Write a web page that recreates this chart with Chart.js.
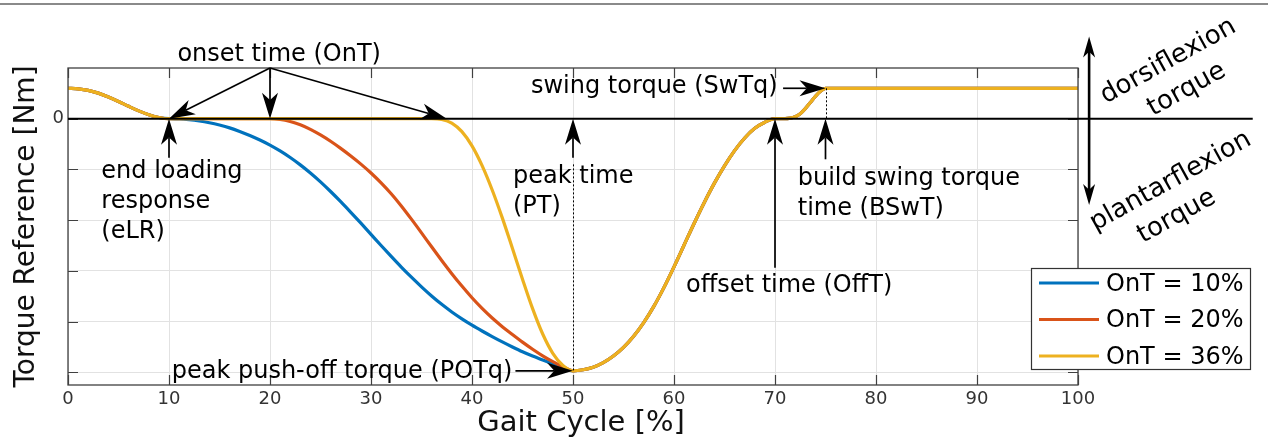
<!DOCTYPE html>
<html><head><meta charset="utf-8">
<script src="https://cdn.jsdelivr.net/npm/chart.js@4.4.1/dist/chart.umd.min.js"></script>
<style>html,body{margin:0;padding:0;background:#fff;overflow:hidden}#wrap{width:1268px;height:440px;position:relative}</style>
</head><body><div id="wrap"><canvas id="c" width="1268" height="440"></canvas></div>
<script>
// ---------- data ----------
const seriesLabels = ['OnT = 10%', 'OnT = 20%', 'OnT = 36%'];
const seriesColors = ['#0072BD', '#D95319', '#EDB120'];

// shared early stance part (0-10 %)
const earlyPct    = [0, 1, 2, 3, 4, 5, 6, 7, 8, 9, 10];
const earlyTorque = [0.6, 0.59, 0.56, 0.505, 0.43, 0.34, 0.245, 0.155, 0.08, 0.025, 0];

// OnT = 10 %
const bluePct    = [11, 12, 13, 14, 15, 16, 17, 18, 19, 20, 21, 22, 23, 24, 25, 26, 27, 28, 29, 30, 31, 32, 33, 34, 35, 36, 37, 38, 39, 40, 41, 42, 43, 44, 45, 46, 47, 48, 49, 50];
const blueTorque = [-0.005, -0.02, -0.045, -0.08, -0.125, -0.18, -0.25, -0.33, -0.42, -0.52, -0.635, -0.765, -0.91, -1.07, -1.245, -1.435, -1.635, -1.845, -2.06, -2.28, -2.5, -2.715, -2.925, -3.125, -3.315, -3.495, -3.66, -3.81, -3.945, -4.07, -4.185, -4.295, -4.4, -4.5, -4.595, -4.68, -4.755, -4.83, -4.9, -4.97];

// OnT = 20 %
const orangePct    = [15, 20, 21, 22, 23, 24, 25, 26, 27, 28, 29, 30, 31, 32, 33, 34, 35, 36, 37, 38, 39, 40, 41, 42, 43, 44, 45, 46, 47, 48, 49, 50];
const orangeTorque = [0, 0, -0.015, -0.055, -0.12, -0.21, -0.32, -0.445, -0.585, -0.735, -0.895, -1.07, -1.265, -1.48, -1.72, -1.98, -2.25, -2.525, -2.795, -3.055, -3.3, -3.53, -3.74, -3.93, -4.1, -4.255, -4.405, -4.545, -4.675, -4.79, -4.89, -4.97];

// OnT = 36 %
const yellowPct    = [20, 30, 36, 37, 38, 39, 40, 41, 42, 43, 44, 45, 46, 47, 48, 49, 50];
const yellowTorque = [0, 0, 0, -0.015, -0.085, -0.255, -0.535, -0.925, -1.405, -1.955, -2.555, -3.165, -3.745, -4.245, -4.625, -4.865, -4.97];

// shared late stance + swing part (51-100 %)
const latePct    = [51, 52, 53, 54, 55, 56, 57, 58, 59, 60, 61, 62, 63, 64, 65, 66, 67, 68, 69, 70, 71, 71.5, 72, 72.5, 73, 73.5, 74, 74.5, 75, 100];
const lateTorque = [-4.95, -4.9, -4.81, -4.68, -4.51, -4.29, -4.02, -3.7, -3.33, -2.92, -2.49, -2.06, -1.65, -1.27, -0.93, -0.63, -0.38, -0.19, -0.07, 0, 0.002, 0.012, 0.04, 0.1, 0.2, 0.32, 0.44, 0.54, 0.6, 0.6];

const xTickValues = [0, 10, 20, 30, 40, 50, 60, 70, 80, 90, 100];
const xTickLabels = ['0', '10', '20', '30', '40', '50', '60', '70', '80', '90', '100'];
const yTickValues = [-5, -4, -3, -2, -1, 0];
const yTickLabels = ['', '', '', '', '', '0'];

// ---------- annotations (data coordinates) ----------
const arrowSpecs = [
  { from: [20, 1.0],   to: [10, 0] },
  { from: [20, 1.0],   to: [20, 0] },
  { from: [20, 1.0],   to: [37.5, 0] },
  { from: [10, -0.77], to: [10, 0] },
  { from: [50, -0.77], to: [50, 0] },
  { from: [70.8, 0.6], to: [75, 0.6] },
  { from: [75, -0.8],  to: [75, 0] },
  { from: [70, -2.94], to: [70, 0] },
  { from: [44.3, -4.97], to: [50, -4.97] }
];
const dottedSpecs = [
  { from: [50, -0.9], to: [50, -4.97] },
  { from: [75, 0.6],  to: [75, 0] }
];
const textSpecs = [
  { lines: ['onset time (OnT)'], x: 20.91, y: 1.145, align: 'center' },
  { lines: ['end loading', 'response', '(eLR)'], x: 3.3, y: -1.17, align: 'left' },
  { lines: ['peak time', '(PT)'], x: 44.06, y: -1.27, align: 'left' },
  { lines: ['swing torque (SwTq)'], x: 45.84, y: 0.507, align: 'left' },
  { lines: ['build swing torque', 'time (BSwT)'], x: 72.25, y: -1.30, align: 'left' },
  { lines: ['offset time (OffT)'], x: 61.2, y: -3.41, align: 'left' },
  { lines: ['peak push-off torque (POTq)'], x: 10.27, y: -5.12, align: 'left' }
];
const rotatedSpecs = [
  { text: 'dorsiflexion',   x: 108.94, y: 1.131 },
  { text: 'torque',         x: 110.76, y: 0.573 },
  { text: 'plantarflexion', x: 109.18, y: -1.238 },
  { text: 'torque',         x: 109.77, y: -1.929 }
];
const directionArrow = { x: 101.1, top: 1.62, bottom: -1.70 };
const zeroLineEnd = 117.3;
const xTitle = { text: 'Gait Cycle [%]', x: 50.8, baselineY: 431 };

function pts(xs, ys) { return xs.map((x, i) => ({ x: x, y: ys[i] })); }

const FONT = "'DejaVu Sans', Verdana, sans-serif";

function drawArrowHead(ctx, x1, y1, x2, y2, L, W) {
  const dx = x2 - x1, dy = y2 - y1, len = Math.hypot(dx, dy);
  const ux = dx / len, uy = dy / len, px = -uy, py = ux;
  const notch = L * 0.72;
  ctx.beginPath();
  ctx.moveTo(x2, y2);
  ctx.lineTo(x2 - ux * L + px * W / 2, y2 - uy * L + py * W / 2);
  ctx.lineTo(x2 - ux * notch, y2 - uy * notch);
  ctx.lineTo(x2 - ux * L - px * W / 2, y2 - uy * L - py * W / 2);
  ctx.closePath();
  ctx.fill();
}
function drawArrow(ctx, x1, y1, x2, y2, L, W, lw) {
  const dx = x2 - x1, dy = y2 - y1, len = Math.hypot(dx, dy);
  const ux = dx / len, uy = dy / len;
  const notch = L * 0.72;
  ctx.lineWidth = lw;
  ctx.beginPath();
  ctx.moveTo(x1, y1);
  ctx.lineTo(x2 - ux * notch, y2 - uy * notch);
  ctx.stroke();
  drawArrowHead(ctx, x1, y1, x2, y2, L, W);
}

const annotPlugin = {
  id: 'annot',
  afterDatasetsDraw(chart) {
    const ctx = chart.ctx, xs = chart.scales.x, ys = chart.scales.y, a = chart.chartArea;
    const X = v => xs.getPixelForValue(v), Y = v => ys.getPixelForValue(v);
    ctx.save();
    // figure top rule
    ctx.strokeStyle = '#8a8a8a'; ctx.lineWidth = 2;
    ctx.beginPath(); ctx.moveTo(0, 4); ctx.lineTo(1268, 4); ctx.stroke();
    // axes box
    ctx.strokeStyle = '#404040'; ctx.lineWidth = 1.3;
    ctx.strokeRect(a.left, a.top, a.right - a.left, a.bottom - a.top);
    // inward ticks
    ctx.lineWidth = 1.2; ctx.strokeStyle = '#404040';
    ctx.beginPath();
    xTickValues.forEach(v => {
      const px = Math.round(X(v)) + 0.5;
      ctx.moveTo(px, a.bottom); ctx.lineTo(px, a.bottom - 10);
      ctx.moveTo(px, a.top); ctx.lineTo(px, a.top + 10);
    });
    yTickValues.forEach(v => {
      const py = Math.round(Y(v)) + 0.5;
      ctx.moveTo(a.left, py); ctx.lineTo(a.left + 10, py);
      ctx.moveTo(a.right, py); ctx.lineTo(a.right - 10, py);
    });
    ctx.stroke();
    // zero line
    ctx.strokeStyle = '#000'; ctx.lineWidth = 2;
    ctx.beginPath(); ctx.moveTo(X(0), Y(0)); ctx.lineTo(X(zeroLineEnd), Y(0)); ctx.stroke();
    // dotted lines
    ctx.lineWidth = 1; ctx.setLineDash([2, 2]);
    dottedSpecs.forEach(d => {
      ctx.beginPath(); ctx.moveTo(Math.round(X(d.from[0])) + 0.5, Y(d.from[1]));
      ctx.lineTo(Math.round(X(d.to[0])) + 0.5, Y(d.to[1])); ctx.stroke();
    });
    ctx.setLineDash([]);
    // arrows
    ctx.fillStyle = '#000'; ctx.strokeStyle = '#000';
    arrowSpecs.forEach(s => drawArrow(ctx, X(s.from[0]), Y(s.from[1]), X(s.to[0]), Y(s.to[1]), 26, 16, 1.7));
    // direction double arrow
    const dxp = X(directionArrow.x), dt = Y(directionArrow.top), db = Y(directionArrow.bottom);
    ctx.lineWidth = 2.6;
    ctx.beginPath(); ctx.moveTo(dxp, dt + 14); ctx.lineTo(dxp, db - 14); ctx.stroke();
    drawArrowHead(ctx, dxp, db, dxp, dt, 21, 12);
    drawArrowHead(ctx, dxp, dt, dxp, db, 21, 12);
    // texts
    ctx.font = '24px ' + FONT; ctx.fillStyle = '#000'; ctx.textBaseline = 'alphabetic';
    textSpecs.forEach(t => {
      ctx.textAlign = t.align;
      t.lines.forEach((ln, i) => ctx.fillText(ln, X(t.x), Y(t.y) + i * 30));
    });
    // rotated labels
    ctx.font = '26px ' + FONT; ctx.textAlign = 'center'; ctx.textBaseline = 'middle';
    rotatedSpecs.forEach(r => {
      ctx.save(); ctx.translate(X(r.x), Y(r.y)); ctx.rotate(-29 * Math.PI / 180);
      ctx.fillText(r.text, 0, 0); ctx.restore();
    });
    // x axis title
    ctx.font = '29px ' + FONT; ctx.fillStyle = '#111'; ctx.textAlign = 'center'; ctx.textBaseline = 'alphabetic';
    ctx.fillText(xTitle.text, X(xTitle.x), xTitle.baselineY);
    // legend
    const lg = { left: 1031.5, top: 268.5, right: 1250.5, bottom: 369.5, rows: [283, 319.5, 356] };
    ctx.fillStyle = '#fff'; ctx.fillRect(lg.left, lg.top, lg.right - lg.left, lg.bottom - lg.top);
    ctx.strokeStyle = '#333'; ctx.lineWidth = 1.2;
    ctx.strokeRect(lg.left, lg.top, lg.right - lg.left, lg.bottom - lg.top);
    ctx.font = '24px ' + FONT; ctx.textAlign = 'left'; ctx.textBaseline = 'middle';
    chart.data.datasets.slice().sort((p, q) => p.legendIndex - q.legendIndex).forEach((ds, i) => {
      const y = lg.rows[i];
      ctx.strokeStyle = ds.borderColor; ctx.lineWidth = 3.2;
      ctx.beginPath(); ctx.moveTo(1039, y); ctx.lineTo(1099, y); ctx.stroke();
      ctx.fillStyle = '#000'; ctx.fillText(ds.label, 1106, y + 1.5);
    });
    ctx.restore();
  }
};

const datasets = [
  { label: seriesLabels[0], legendIndex: 0, order: 3, borderColor: seriesColors[0],
    data: pts(earlyPct.concat(bluePct, latePct), earlyTorque.concat(blueTorque, lateTorque)) },
  { label: seriesLabels[1], legendIndex: 1, order: 2, borderColor: seriesColors[1],
    data: pts(earlyPct.concat(orangePct, latePct), earlyTorque.concat(orangeTorque, lateTorque)) },
  { label: seriesLabels[2], legendIndex: 2, order: 1, borderColor: seriesColors[2],
    data: pts(earlyPct.concat(yellowPct, latePct), earlyTorque.concat(yellowTorque, lateTorque)) }
].map(d => Object.assign(d, { borderWidth: 3.2, pointRadius: 0, fill: false, cubicInterpolationMode: 'monotone' }));

new Chart(document.getElementById('c').getContext('2d'), {
  type: 'line',
  data: { datasets: datasets },
  options: {
    responsive: false, animation: false, devicePixelRatio: 1,
    layout: { padding: { left: 0, right: 190, top: 68, bottom: 0 } },
    plugins: { legend: { display: false }, tooltip: { enabled: false } },
    scales: {
      x: {
        type: 'linear', min: 0, max: 100,
        afterBuildTicks: s => { s.ticks = xTickValues.map(v => ({ value: v })); },
        afterFit: s => { s.height = 55; },
        grid: { color: '#e2e2e2', lineWidth: 1, drawTicks: false },
        border: { display: false },
        ticks: { autoSkip: false, maxRotation: 0, padding: 4, color: '#333',
                 font: { family: FONT, size: 18 }, callback: (v, i) => xTickLabels[i] },
        title: { display: false }
      },
      y: {
        type: 'linear', min: -5.25, max: 1.0,
        afterBuildTicks: s => { s.ticks = yTickValues.map(v => ({ value: v })); },
        afterFit: s => { s.width = 68; },
        grid: { color: '#e2e2e2', lineWidth: 1, drawTicks: false },
        border: { display: false },
        ticks: { autoSkip: false, padding: 4, color: '#333',
                 font: { family: FONT, size: 18 }, callback: (v, i) => yTickLabels[i] },
        title: { display: true, text: 'Torque Reference [Nm]', color: '#111',
                 font: { family: FONT, size: 28 }, padding: { top: 10, bottom: 0 } }
      }
    }
  },
  plugins: [annotPlugin]
});
</script></body></html>
